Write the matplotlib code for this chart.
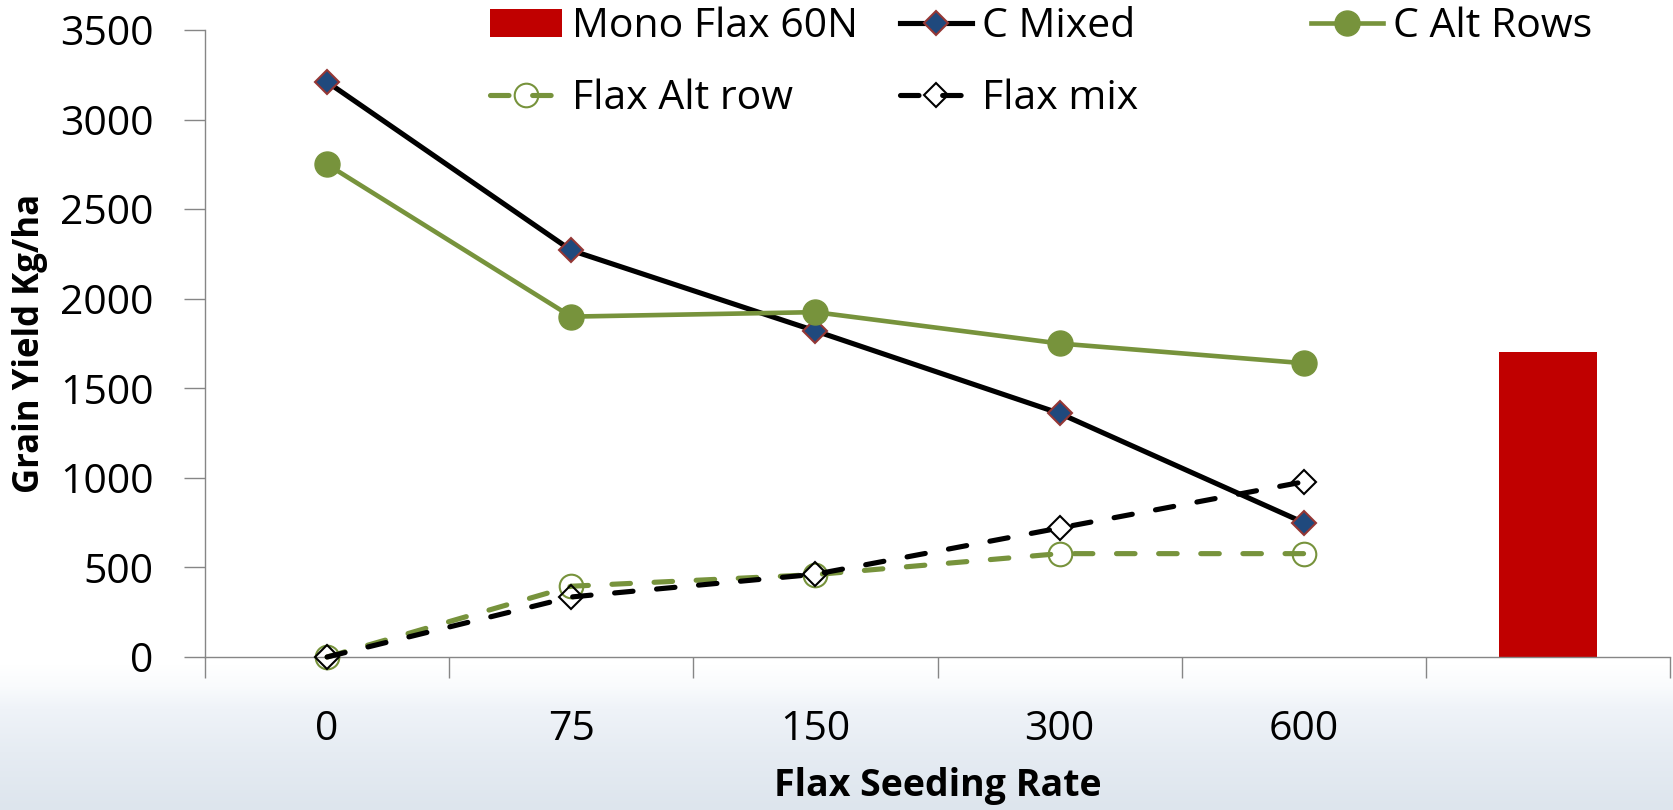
import numpy as np
import matplotlib
matplotlib.use("Agg")
import matplotlib.pyplot as plt
from matplotlib.colors import LinearSegmentedColormap

plt.rcParams["font.family"] = ["Open Sans", "DejaVu Sans"]

# data
rates = ["0", "75", "150", "300", "600"]
mono_label = ""
mono_flax_60n = 1700
c_mixed = [3210, 2270, 1820, 1360, 750]
c_alt_rows = [2750, 1900, 1925, 1750, 1640]
flax_alt_row = [0, 395, 460, 577, 577]
flax_mix = [0, 335, 462, 720, 978]
yticks = [0, 500, 1000, 1500, 2000, 2500, 3000, 3500]

W, H = 1673, 810
fig = plt.figure(figsize=(W / 100, H / 100), dpi=100)
fig.patch.set_facecolor("white")

# faded band at the bottom of the slide
bg = fig.add_axes([0, 0, 1, 145 / H], zorder=-5)
cmap = LinearSegmentedColormap.from_list(
    "band", [(0, "#dde5ed"), (0.4, "#e6ecf3"), (0.7, "#eff3f8"), (0.85, "#f9fbfd"), (1, "#ffffff")])
grad = np.linspace(0, 1, 200).reshape(-1, 1)
bg.imshow(grad, aspect="auto", cmap=cmap, origin="lower", extent=[0, 1, 0, 1])
bg.axis("off")

ax = fig.add_axes([205 / W, 1 - 657 / H, 1465 / W, 627 / H])
ax.set_facecolor("none")

cats = rates + [mono_label]
x = np.arange(len(cats))
xr = x[:len(rates)]

bar = ax.bar(x[-1], mono_flax_60n, width=0.4, color="#C00000", zorder=2, label="Mono Flax 60N")

lw = 3.7
l1, = ax.plot(xr, c_mixed, color="black", lw=lw, marker="D", ms=12,
              mfc="#1F497D", mec="#953735", mew=1.5, zorder=3, clip_on=False, label="C Mixed")
l2, = ax.plot(xr, c_alt_rows, color="#77933C", lw=lw * 0.9, marker="o", ms=18,
              mfc="#77933C", mec="#77933C", zorder=4, clip_on=False, label="C Alt Rows")
l3, = ax.plot(xr, flax_alt_row, color="#77933C", lw=lw, marker="o", ms=17,
              mfc="none", mec="#77933C", mew=1.5, zorder=5, clip_on=False,
              dashes=(3.6, 4.6), dash_capstyle="round", label="Flax Alt row")
l4, = ax.plot(xr, flax_mix, color="black", lw=lw, marker="D", ms=12,
              mfc="none", mec="black", mew=1.5, zorder=6, clip_on=False,
              dashes=(3.6, 4.6), dash_capstyle="round", label="Flax mix")

ax.set_xlim(-0.5, len(cats) - 0.5)
ax.set_ylim(0, 3500)
ax.set_yticks(yticks)
ax.set_yticklabels([str(v) for v in yticks])

# category boundaries as major ticks, labels on minor ticks
ax.set_xticks(np.arange(-0.5, len(cats), 1.0))
ax.set_xticklabels([])
ax.set_xticks(x, minor=True)
ax.set_xticklabels(cats, minor=True)
ax.tick_params(axis="x", which="major", length=15, width=1, color="#868686", direction="out")
ax.tick_params(axis="x", which="minor", length=0, pad=38, labelsize=29.5)
ax.tick_params(axis="y", length=15, width=1, color="#868686", direction="out", pad=22, labelsize=29.5)

for s in ["top", "right"]:
    ax.spines[s].set_visible(False)
for s in ["left", "bottom"]:
    ax.spines[s].set_color("#868686")
    ax.spines[s].set_linewidth(1)

ax.set_ylabel("Grain Yield Kg/ha", fontsize=25, fontweight="bold")
ax.yaxis.label.set_va("center")
ax.yaxis.set_label_coords((30 - 205) / 1465, 0.5)
ax.set_xlabel("Flax Seeding Rate", fontsize=27, fontweight="bold")
ax.xaxis.label.set_va("center")
ax.xaxis.set_label_coords(0.5, -129 / 627)

# legend laid out like the original: three fixed columns, two rows
entries = [
    (bar, "Mono Flax 60N", 490, 27),
    (l1, "C Mixed", 900, 27),
    (l2, "C Alt Rows", 1311, 27),
    (l3, "Flax Alt row", 490, 99),
    (l4, "Flax mix", 900, 99),
]
for h, lab, px, py in entries:
    fig.legend([h], [lab], loc="center left", bbox_to_anchor=(px / W, 1 - py / H),
               frameon=False, borderpad=0, borderaxespad=0, fontsize=29.5,
               handlelength=1.75, handletextpad=0.25, handleheight=0.7)

fig.savefig("out.png", dpi=100)
